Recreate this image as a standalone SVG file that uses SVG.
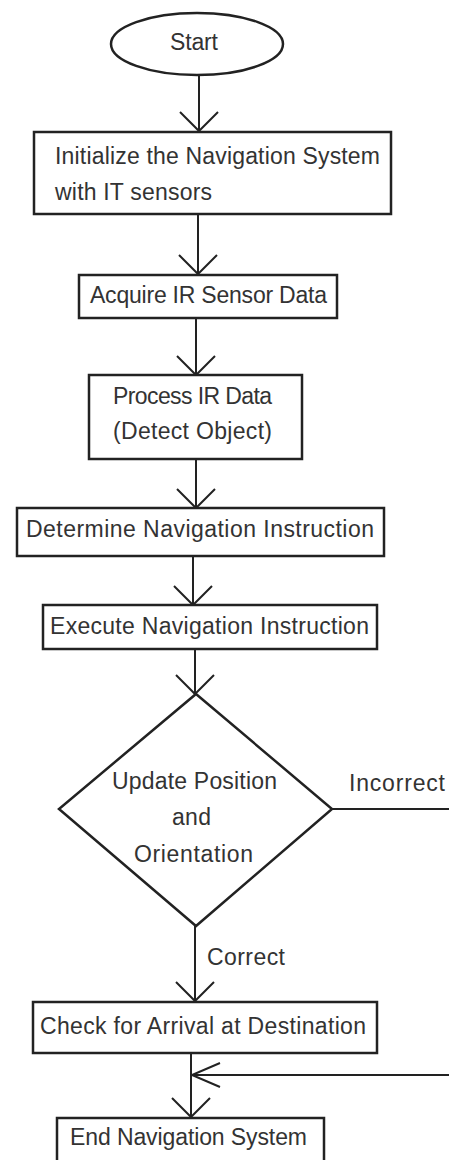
<svg xmlns="http://www.w3.org/2000/svg" width="449" height="1160" viewBox="0 0 449 1160">
<style>
.shape{fill:#fff;stroke:#222;stroke-width:2.5}
.ln{fill:none;stroke:#222;stroke-width:2}
.t{font-family:"Liberation Sans",Arial,sans-serif;font-size:23px;fill:#333}
</style>
<defs>
<marker id="arr" markerUnits="userSpaceOnUse" viewBox="-22 -22 24 44" refX="0" refY="0" markerWidth="24" markerHeight="44" orient="auto">
<path d="M-19,-19 L0,0 L-19,19" fill="none" stroke="#222" stroke-width="2"/>
</marker>
<marker id="arrL" markerUnits="userSpaceOnUse" viewBox="-32 -16 34 32" refX="0" refY="0" markerWidth="34" markerHeight="32" orient="auto">
<path d="M-28,-12 L0,0 L-28,12" fill="none" stroke="#222" stroke-width="2"/>
</marker>
</defs>
<rect width="449" height="1160" fill="#fff"/>
<g id="connectors">
<line class="ln" x1="199" y1="75" x2="199" y2="131" marker-end="url(#arr)"/>
<line class="ln" x1="198" y1="214" x2="198" y2="274" marker-end="url(#arr)"/>
<line class="ln" x1="196" y1="318" x2="196" y2="375" marker-end="url(#arr)"/>
<line class="ln" x1="196" y1="459" x2="196" y2="508" marker-end="url(#arr)"/>
<line class="ln" x1="193" y1="556" x2="193" y2="605" marker-end="url(#arr)"/>
<line class="ln" x1="195" y1="649" x2="195" y2="694" marker-end="url(#arr)"/>
<line class="ln" x1="195" y1="926" x2="195" y2="1001" marker-end="url(#arr)"/>
<line class="ln" x1="191" y1="1053" x2="191" y2="1117" marker-end="url(#arr)"/>
<line class="ln" x1="332" y1="809" x2="449" y2="809"/>
<line class="ln" x1="449" y1="1075" x2="192" y2="1075" marker-end="url(#arrL)"/>
<text class="t" x="349" y="791" textLength="96">Incorrect</text>
<text class="t" x="207" y="965" textLength="78">Correct</text>
</g>
<g id="start">
<ellipse class="shape" cx="197" cy="44" rx="86" ry="31"/>
<text class="t" x="170" y="50" textLength="48">Start</text>
</g>
<g id="init">
<rect class="shape" x="34" y="132" width="357" height="82"/>
<text class="t" x="55" y="164" textLength="325">Initialize the Navigation System</text>
<text class="t" x="55" y="200" textLength="157">with IT sensors</text>
</g>
<g id="acquire">
<rect class="shape" x="79" y="275" width="258" height="43"/>
<text class="t" x="90" y="303" textLength="237">Acquire IR Sensor Data</text>
</g>
<g id="process">
<rect class="shape" x="89" y="375" width="213" height="84"/>
<text class="t" x="113" y="404" textLength="159">Process IR Data</text>
<text class="t" x="113" y="439" textLength="159">(Detect Object)</text>
</g>
<g id="determine">
<rect class="shape" x="17" y="508" width="367" height="48"/>
<text class="t" x="26" y="537" textLength="348">Determine Navigation Instruction</text>
</g>
<g id="execute">
<rect class="shape" x="43" y="605" width="334" height="44"/>
<text class="t" x="50" y="634" textLength="319">Execute Navigation Instruction</text>
</g>
<g id="update">
<polygon class="shape" points="196,694 332,809 196,926 59,809"/>
<text class="t" x="112" y="789" textLength="165">Update Position</text>
<text class="t" x="172" y="825" textLength="39">and</text>
<text class="t" x="134" y="862" textLength="119">Orientation</text>
</g>
<g id="check">
<rect class="shape" x="33" y="1002" width="344" height="51"/>
<text class="t" x="40" y="1034" textLength="326">Check for Arrival at Destination</text>
</g>
<g id="end">
<rect class="shape" x="57" y="1118" width="267" height="52"/>
<text class="t" x="70" y="1145" textLength="237">End Navigation System</text>
</g>
</svg>
